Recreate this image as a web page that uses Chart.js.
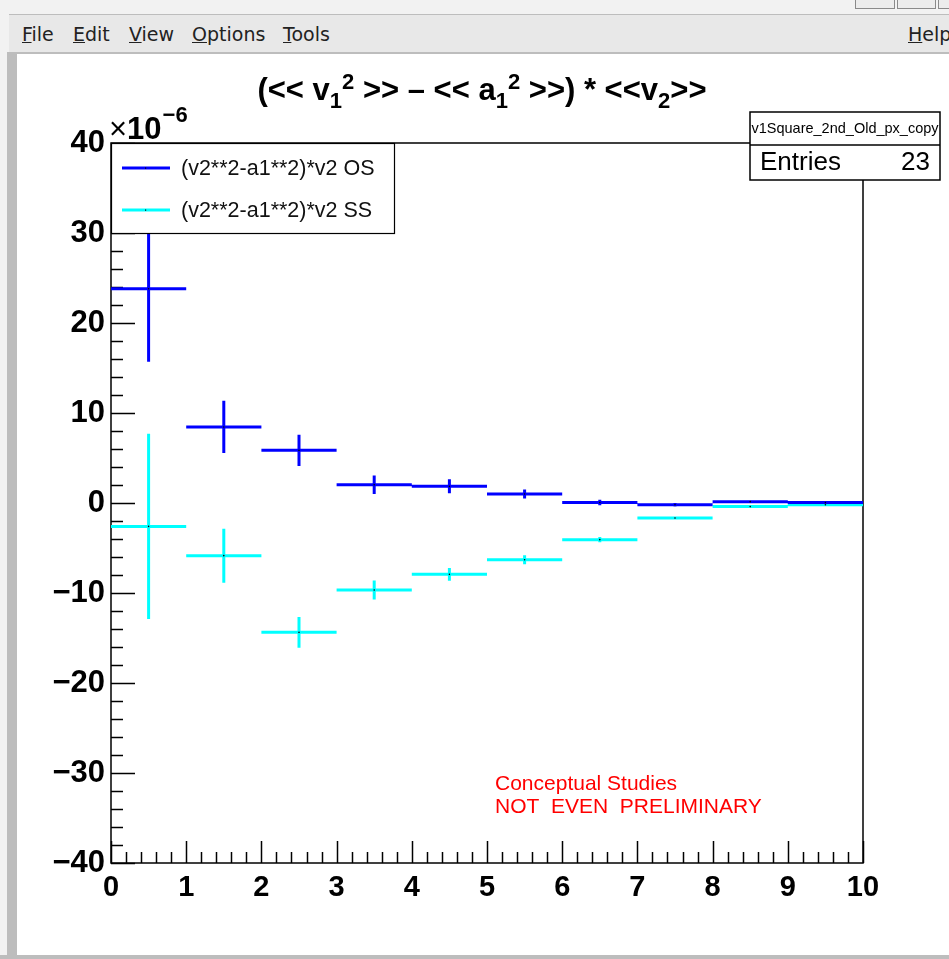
<!DOCTYPE html>
<html>
<head>
<meta charset="utf-8">
<script src="https://cdn.jsdelivr.net/npm/chart.js@4/dist/chart.umd.min.js"></script>
<style>
  html, body { margin: 0; padding: 0; }
  body { width: 949px; height: 959px; position: relative; overflow: hidden; background: #f2f2f2; font-family: "DejaVu Sans", sans-serif; }
  #topstrip { position: absolute; left: 0; top: 0; width: 949px; height: 14px; background: #f2f2f2; }
  .winbtn { position: absolute; top: -2px; height: 9px; border: 1px solid #8a8a8a; background: #ececec; }
  #menubar { position: absolute; left: 9px; top: 14px; width: 940px; height: 38px; background: #e8e8e8; border-top: 1px solid #bdbdbd; }
  #menubar span { position: absolute; top: 8px; font-size: 19px; color: #222; }
  #menubar u { text-decoration: underline; }
  #leftbar { position: absolute; left: 7px; top: 52px; width: 10px; height: 907px; background: #bdbdbd; }
  #bottombar { position: absolute; left: 0; top: 955px; width: 949px; height: 4px; background: #bdbdbd; }
  #sep { position: absolute; left: 9px; top: 52px; width: 940px; height: 2px; background: #bdbdbd; }
  #pad { position: absolute; left: 17px; top: 54px; width: 932px; height: 901px; background: #fff; }
  #title { position: absolute; left: 0; top: 15px; width: 930px; text-align: center; font: bold 31px "Liberation Sans", Arial, sans-serif; color: #000; white-space: pre; }
  #title sub, #title sup { font-size: 22px; }
</style>
</head>
<body>
<div id="topstrip"></div>
<div class="winbtn" style="left:855px;width:38px"></div>
<div class="winbtn" style="left:897px;width:37px"></div>
<div class="winbtn" style="left:938px;width:20px"></div>
<div id="menubar">
  <span style="left:13px"><u>F</u>ile</span>
  <span style="left:64px"><u>E</u>dit</span>
  <span style="left:120px"><u>V</u>iew</span>
  <span style="left:183px"><u>O</u>ptions</span>
  <span style="left:274px"><u>T</u>ools</span>
  <span style="left:899px"><u>H</u>elp</span>
</div>
<div id="sep"></div>
<div id="leftbar"></div>
<div id="bottombar"></div>
<div id="pad">
  <canvas id="chart" width="932" height="901"></canvas>
  <div id="title">(&lt;&lt; v<sub>1</sub><sup>2</sup> &gt;&gt; – &lt;&lt; a<sub>1</sub><sup>2</sup> &gt;&gt;) * &lt;&lt;v<sub>2</sub>&gt;&gt;</div>
</div>
<script>
  "use strict";

  // bin edges along x, values in units of 1e-6
  var binEdges = [0, 1, 2, 3, 4, 5, 6, 7, 8, 9, 10];
  var osValues = [23.8, 8.45, 5.85, 2.03, 1.85, 1.0, 0.05, -0.2, 0.15, 0.05];
  var osErrors = [8.1, 2.9, 1.73, 1.03, 0.78, 0.5, 0.3, 0.2, 0.15, 0.1];
  var ssValues = [-2.6, -5.85, -14.37, -9.67, -7.93, -6.3, -4.07, -1.67, -0.4, -0.2];
  var ssErrors = [10.3, 3.0, 1.7, 1.05, 0.7, 0.5, 0.3, 0.15, 0.1, 0.1];
  var seriesLabels = ["(v2**2-a1**2)*v2 OS", "(v2**2-a1**2)*v2 SS"];
  var seriesColors = ["#0000ff", "#00ffff"];
  var yTicks = [-40, -30, -20, -10, 0, 10, 20, 30, 40];
  var xTicks = [0, 1, 2, 3, 4, 5, 6, 7, 8, 9, 10];
  var statsName = "v1Square_2nd_Old_px_copy";
  var statsEntries = 23;

  var LABEL_FONT = "\"Liberation Sans\", Arial, sans-serif";

  function errorBarPoints(values, errors) {
    var pts = [];
    for (var i = 0; i < values.length; i++) {
      var lo = binEdges[i];
      var hi = binEdges[i + 1];
      var c = (lo + hi) / 2;
      var v = values[i];
      var e = errors[i];
      pts.push({ x: lo, y: v }, { x: hi, y: v }, { x: c, y: null });
      pts.push({ x: c, y: v - e }, { x: c, y: v + e }, { x: c, y: null });
    }
    return pts;
  }

  function centerPoints(values) {
    return values.map(function (v, i) {
      return { x: (binEdges[i] + binEdges[i + 1]) / 2, y: v };
    });
  }

  function minus(s) {
    return String(s).replace("-", "\u2212");
  }

  // ROOT-like frame with inward ticks on left and bottom axes
  var framePlugin = {
    id: "rootFrame",
    beforeDatasetsDraw: function (chart) {
      var ctx = chart.ctx;
      var a = chart.chartArea;
      var xs = chart.scales.x;
      var ys = chart.scales.y;
      ctx.save();
      ctx.strokeStyle = "#000";
      ctx.lineWidth = 1.5;
      ctx.strokeRect(a.left, a.top, a.right - a.left, a.bottom - a.top);
      ctx.beginPath();
      var k, v, px, len;
      for (k = -20; k <= 20; k++) {
        v = k * 2;
        px = Math.round(ys.getPixelForValue(v)) + 0.5;
        len = v % 10 === 0 ? 24 : 12;
        ctx.moveTo(a.left, px);
        ctx.lineTo(a.left + len, px);
      }
      for (k = 0; k <= 50; k++) {
        v = k * 0.2;
        px = Math.round(xs.getPixelForValue(v)) + 0.5;
        len = k % 5 === 0 ? 22 : 11;
        ctx.moveTo(px, a.bottom);
        ctx.lineTo(px, a.bottom - len);
      }
      ctx.stroke();
      ctx.restore();
    },
    afterDraw: function (chart) {
      var ctx = chart.ctx;
      var a = chart.chartArea;
      ctx.save();

      // axis exponent
      ctx.fillStyle = "#000";
      ctx.textBaseline = "alphabetic";
      ctx.textAlign = "left";
      ctx.font = "31px " + LABEL_FONT;
      ctx.fillText("\u00d7", a.left - 2, 85);
      var w = ctx.measureText("\u00d7").width;
      ctx.font = "bold 31px " + LABEL_FONT;
      ctx.fillText("10", a.left - 2 + w, 85);
      var w2 = ctx.measureText("10").width;
      ctx.font = "bold 22px " + LABEL_FONT;
      ctx.fillText("\u22126", a.left - 1 + w + w2, 68);

      // legend box
      var lx = a.left, ly = a.top, lw = 283, lh = 90;
      ctx.fillStyle = "#fff";
      ctx.fillRect(lx, ly, lw, lh);
      ctx.strokeStyle = "#000";
      ctx.lineWidth = 1.2;
      ctx.strokeRect(lx + 0.5, ly + 0.5, lw, lh);
      ctx.font = "21.5px " + LABEL_FONT;
      ctx.textBaseline = "middle";
      for (var i = 0; i < seriesLabels.length; i++) {
        var yy = ly + 25 + i * 42;
        ctx.strokeStyle = seriesColors[i];
        ctx.lineWidth = 3;
        ctx.beginPath();
        ctx.moveTo(lx + 11, yy);
        ctx.lineTo(lx + 59, yy);
        ctx.stroke();
        ctx.fillStyle = "#000";
        ctx.fillRect(lx + 34, yy - 0.5, 1.2, 1.2);
        ctx.fillStyle = "#111";
        ctx.fillText(seriesLabels[i], lx + 70, yy + 1);
      }

      // stats box
      var sx = 733, sy = 58, sw = 190, sh = 68, sd = 33;
      ctx.fillStyle = "#fff";
      ctx.fillRect(sx, sy, sw, sh);
      ctx.strokeStyle = "#000";
      ctx.lineWidth = 1.5;
      ctx.strokeRect(sx, sy, sw, sh);
      ctx.beginPath();
      ctx.moveTo(sx, sy + sd);
      ctx.lineTo(sx + sw, sy + sd);
      ctx.stroke();
      ctx.fillStyle = "#000";
      ctx.textAlign = "center";
      ctx.font = "14.5px " + LABEL_FONT;
      ctx.fillText(statsName, sx + sw / 2, sy + 17);
      ctx.font = "26px " + LABEL_FONT;
      ctx.textAlign = "left";
      ctx.fillText("Entries", sx + 10, sy + sd + 18);
      ctx.textAlign = "right";
      ctx.fillText(String(statsEntries), sx + sw - 10, sy + sd + 18);

      // watermark
      ctx.fillStyle = "#ff0000";
      ctx.textAlign = "left";
      ctx.font = "21px " + LABEL_FONT;
      ctx.fillText("Conceptual Studies", 478, 730);
      ctx.fillText("NOT  EVEN  PRELIMINARY", 478, 753);
      ctx.restore();
    },
  };

  var datasets = [
    {
      label: seriesLabels[0],
      data: errorBarPoints(osValues, osErrors),
      showLine: true,
      spanGaps: false,
      borderColor: seriesColors[0],
      borderWidth: 3,
      pointRadius: 0,
      order: 2,
    },
    {
      label: seriesLabels[1],
      data: errorBarPoints(ssValues, ssErrors),
      showLine: true,
      spanGaps: false,
      borderColor: seriesColors[1],
      borderWidth: 3,
      pointRadius: 0,
      order: 3,
    },
    {
      label: "os markers",
      data: centerPoints(osValues),
      pointRadius: 0.8,
      pointBackgroundColor: "#000",
      pointBorderWidth: 0,
      order: 0,
    },
    {
      label: "ss markers",
      data: centerPoints(ssValues),
      pointRadius: 0.8,
      pointBackgroundColor: "#000",
      pointBorderWidth: 0,
      order: 1,
    },
  ];

  new Chart(document.getElementById("chart"), {
    type: "scatter",
    data: { datasets: datasets },
    options: {
      responsive: false,
      animation: false,
      events: [],
      layout: { padding: { left: 0, right: 86, top: 89, bottom: 0 } },
      plugins: {
        legend: { display: false },
        title: { display: false },
        tooltip: { enabled: false },
      },
      scales: {
        x: {
          type: "linear",
          min: 0,
          max: 10,
          afterFit: function (scale) { scale.height = 92; },
          afterBuildTicks: function (scale) {
            scale.ticks = xTicks.map(function (v) { return { value: v }; });
          },
          grid: { display: false, drawTicks: false },
          border: { display: false },
          ticks: {
            autoSkip: false,
            maxRotation: 0,
            padding: 8,
            color: "#000",
            font: { family: LABEL_FONT, size: 29, weight: "bold" },
          },
        },
        y: {
          type: "linear",
          min: -40,
          max: 40,
          afterFit: function (scale) { scale.width = 94; },
          afterBuildTicks: function (scale) {
            scale.ticks = yTicks.map(function (v) { return { value: v }; });
          },
          grid: { display: false, drawTicks: false },
          border: { display: false },
          ticks: {
            autoSkip: false,
            padding: 6,
            color: "#000",
            font: { family: LABEL_FONT, size: 31, weight: "bold" },
            callback: function (v) { return minus(v); },
          },
        },
      },
    },
    plugins: [framePlugin],
  });
</script>
</body>
</html>
